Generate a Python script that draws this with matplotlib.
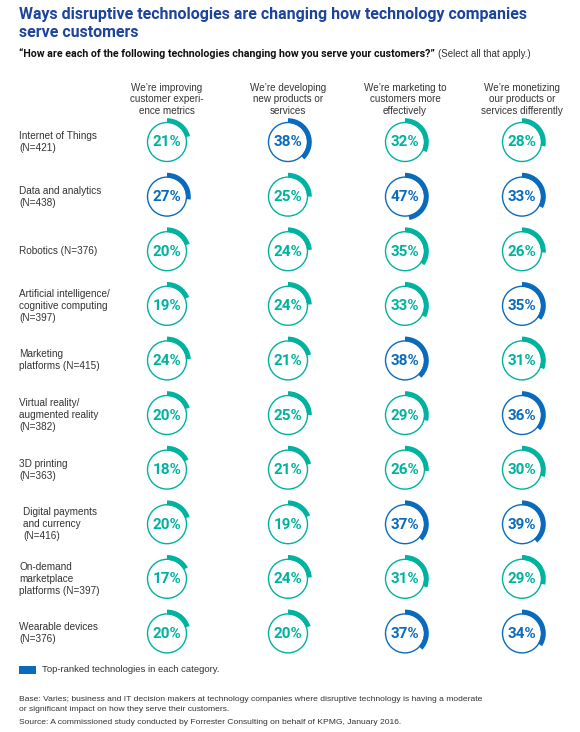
import matplotlib
matplotlib.use("Agg")
import matplotlib.pyplot as plt
from matplotlib import font_manager
from matplotlib.patches import Wedge, Circle, Rectangle

# Data
categories = [
    "Internet of Things\n(N=421)",
    "Data and analytics\n(N=438)",
    "Robotics (N=376)",
    "Artificial intelligence/\ncognitive computing\n(N=397)",
    "Marketing\nplatforms (N=415)",
    "Virtual reality/\naugmented reality\n(N=382)",
    "3D printing\n(N=363)",
    "Digital payments\nand currency\n(N=416)",
    "On-demand\nmarketplace\nplatforms (N=397)",
    "Wearable devices\n(N=376)",
]
columns = [
    "We\u2019re improving\ncustomer experi-\nence metrics",
    "We\u2019re developing\nnew products or\nservices",
    "We\u2019re marketing to\ncustomers more\neffectively",
    "We\u2019re monetizing\nour products or\nservices differently",
]
improving = [21, 27, 20, 19, 24, 20, 18, 20, 17, 20]
developing = [38, 25, 24, 24, 21, 25, 21, 19, 24, 20]
marketing = [32, 47, 35, 33, 38, 29, 26, 37, 31, 37]
monetizing = [28, 33, 26, 35, 31, 36, 30, 39, 29, 34]
# top-ranked (blue) cells per column
top_improving = [False, True, False, False, False, False, False, False, False, False]
top_developing = [True, False, False, False, False, False, False, False, False, False]
top_marketing = [False, True, False, False, True, False, False, True, False, True]
top_monetizing = [False, True, False, True, False, True, False, True, False, True]

values = [improving, developing, marketing, monetizing]
tops = [top_improving, top_developing, top_marketing, top_monetizing]

TEAL = "#00b2a0"
BLUE = "#0a6bbd"
TITLE = "#1c449b"
GREY = "#333333"


def pick_font(names):
    """Return the first installed family from a list."""
    have = {f.name for f in font_manager.fontManager.ttflist}
    for n in names:
        if n in have:
            return n
    return "DejaVu Sans"


body_font = pick_font(["Liberation Sans", "Arial"])
num_font = pick_font(["Roboto", "Liberation Sans"])
plt.rcParams["font.family"] = [body_font, "DejaVu Sans"]

fig = plt.figure(figsize=(5.8, 7.32), dpi=100)
ax = fig.add_axes([0, 0, 1, 1])
ax.set_xlim(0, 580)
ax.set_ylim(732, 0)
ax.set_aspect("equal")
ax.axis("off")

# Layout
col_x = [167, 288, 405, 522]
row_y0, row_dy = 142, 54.6
r_circle, r_arc, arc_w = 19.5, 23.8, 4.8

# Title and question
ax.text(19, 23.5, "Ways disruptive technologies are changing how technology companies\nserve customers",
        fontsize=11.5, fontweight="bold", color=TITLE, va="center", ha="left",
        family=[num_font], linespacing=1.2)
q = ax.text(19, 54, "\u201cHow are each of the following technologies changing how you serve your customers?\u201d",
            fontsize=7.65, fontweight="bold", color="#111111", va="center", ha="left",
            family=[num_font])
fig.canvas.draw()
bb = q.get_window_extent().transformed(ax.transData.inverted())
ax.text(bb.x1 + 3, 54, "(Select all that apply.)", fontsize=7.0, color=GREY,
        va="center", ha="left")

# Column headers
for x, head in zip(col_x, columns):
    ax.text(x, 99.5, head, fontsize=7.1, color=GREY, ha="center", va="center",
            linespacing=1.2)

# Rings
for j, (col, top) in enumerate(zip(values, tops)):
    for i, (v, hi) in enumerate(zip(col, top)):
        cx, cy = col_x[j], row_y0 + i * row_dy
        c = BLUE if hi else TEAL
        ax.add_patch(Circle((cx, cy), r_circle, fill=False, ec=c, lw=1.0))
        # y axis is inverted, so increasing angle runs clockwise on screen
        ax.add_patch(Wedge((cx, cy), r_arc, -90, -90 + 360 * v / 100,
                           width=arc_w, fc=c, ec="none"))
        ax.text(cx, cy + 0.5, f"{v}%", fontsize=11, fontweight="bold", color=c,
                ha="center", va="center", family=[num_font])

# Row labels
for i, lab in enumerate(categories):
    x = 23 if lab.startswith("Digital") else 19
    ax.text(x, row_y0 + i * row_dy, lab, fontsize=7.2, color=GREY, ha="left",
            va="center", linespacing=1.25)

# Legend
ax.add_patch(Rectangle((19, 666), 17, 8, fc=BLUE, ec="none"))
ax.text(42, 670, "Top-ranked technologies in each category.", fontsize=6.8,
        color=GREY, ha="left", va="center")

# Footnotes
ax.text(19, 704.5, "Base: Varies; business and IT decision makers at technology companies where disruptive technology is having a moderate\n"
        "or significant impact on how they serve their customers.",
        fontsize=6.1, color=GREY, ha="left", va="center", linespacing=1.5)
ax.text(19, 722, "Source: A commissioned study conducted by Forrester Consulting on behalf of KPMG, January 2016.",
        fontsize=6.1, color=GREY, ha="left", va="center")

fig.savefig("out.png", dpi=100)
